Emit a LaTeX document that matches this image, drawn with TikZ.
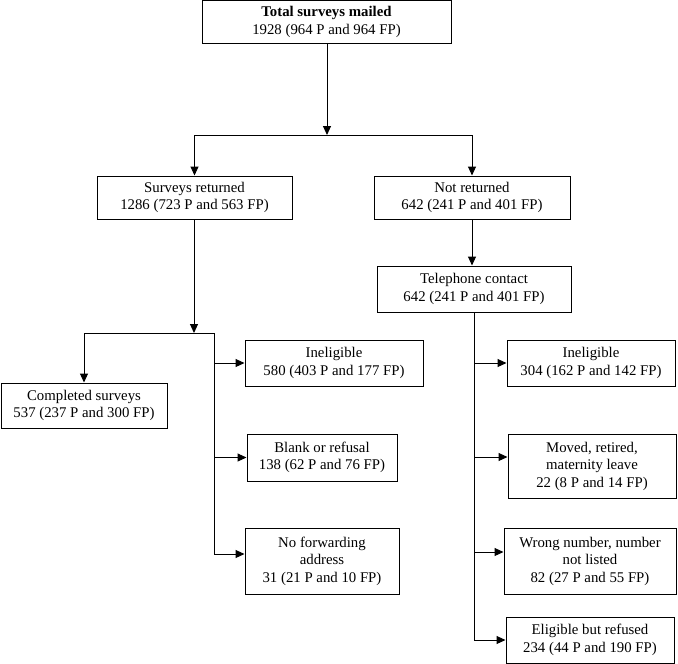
\documentclass[tikz,border=0pt]{standalone}
\usepackage{fontspec}
\setmainfont{Liberation Serif}
\usetikzlibrary{arrows.meta}
\begin{document}
\begin{tikzpicture}[x=1pt,y=-1pt,
	box/.style={draw,line width=1pt,align=center,inner sep=0pt,
		font=\fontsize{14.8}{17.5}\selectfont},
	ln/.style={line width=1pt},
	arr/.style={ln,-{Triangle[length=9pt,width=8pt]}}]
	\useasboundingbox (0,0) rectangle (678,664);
	% boxes
	\node[box,minimum width=249,minimum height=43] (total) at (326.5,22) {\textbf{Total surveys mailed}\\1928 (964 P and 964 FP)};
	\node[box,minimum width=195,minimum height=43] (returned) at (194.5,197.5) {Surveys returned\\1286 (723 P and 563 FP)};
	\node[box,minimum width=196,minimum height=43] (notret) at (472,197.5) {Not returned\\642 (241 P and 401 FP)};
	\node[box,minimum width=194,minimum height=46] (phone) at (474,289) {Telephone contact\\642 (241 P and 401 FP)};
	\node[box,minimum width=166,minimum height=45] (completed) at (84,405.5) {Completed surveys\\537 (237 P and 300 FP)};
	\node[box,minimum width=178,minimum height=46] (inelA) at (334,363) {Ineligible\\580 (403 P and 177 FP)};
	\node[box,minimum width=150,minimum height=47] (blank) at (322,457.5) {Blank or refusal\\138 (62 P and 76 FP)};
	\node[box,minimum width=154,minimum height=66] (nofwd) at (322,561) {No forwarding\\address\\31 (21 P and 10 FP)};
	\node[box,minimum width=168,minimum height=46] (inelB) at (591,363) {Ineligible\\304 (162 P and 142 FP)};
	\node[box,minimum width=168,minimum height=64] (moved) at (592,466) {Moved, retired,\\maternity leave\\22 (8 P and 14 FP)};
	\node[box,minimum width=172,minimum height=66] (wrong) at (590,561) {Wrong number, number\\not listed\\82 (27 P and 55 FP)};
	\node[box,minimum width=168,minimum height=46] (elig) at (590,640) {Eligible but refused\\234 (44 P and 190 FP)};
	% junctions
	\coordinate (split) at (327,135);
	\coordinate (splitA) at (194,333);
	\coordinate (spineA) at (214,333);
	\coordinate (movedin) at ([yshift=9pt]moved.west);
	\coordinate (nofwdin) at ([yshift=7pt]nofwd.west);
	\coordinate (wrongin) at ([yshift=9pt]wrong.west);
	% top split
	\draw[arr] (split |- total.south) -- (split);
	\draw[ln] (returned.north |- split) -- (notret.north |- split);
	\draw[arr] (returned.north |- split) -- (returned.north);
	\draw[arr] (notret.north |- split) -- (notret.north);
	\draw[arr] (notret.south) -- (notret.south |- phone.north);
	% returned side
	\draw[arr] (splitA |- returned.south) -- (splitA);
	\draw[ln] (completed.north |- splitA) -- (spineA) -- (spineA |- nofwdin);
	\draw[arr] (completed.north |- splitA) -- (completed.north);
	\draw[arr] (spineA |- inelA.west) -- (inelA.west);
	\draw[arr] (spineA |- blank.west) -- (blank.west);
	\draw[arr] (spineA |- nofwdin) -- (nofwdin);
	% telephone side
	\draw[ln] (phone.south) -- (phone.south |- elig.west);
	\draw[arr] (phone.south |- inelB.west) -- (inelB.west);
	\draw[arr] (phone.south |- movedin) -- (movedin);
	\draw[arr] (phone.south |- wrongin) -- (wrongin);
	\draw[arr] (phone.south |- elig.west) -- (elig.west);
\end{tikzpicture}
\end{document}
